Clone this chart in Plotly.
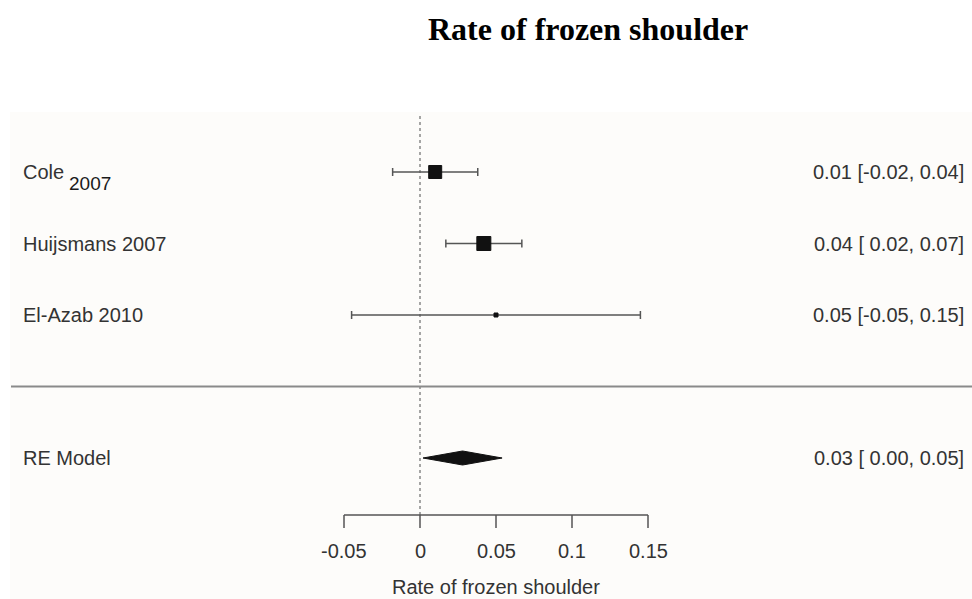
import plotly.graph_objects as go

# ---- data ----
studies = ["Cole", "Huijsmans 2007", "El-Azab 2010"]
cole_sub = "2007"
est = [0.01, 0.042, 0.05]
ci_lo = [-0.018, 0.017, -0.045]
ci_hi = [0.038, 0.067, 0.145]
marker_sizes = [13, 14, 4]
right_labels = ["0.01 [-0.02, 0.04]", "0.04 [ 0.02, 0.07]", "0.05 [-0.05, 0.15]"]
rows = [5, 4, 3]

re_label = "RE Model"
re_est, re_lo, re_hi = 0.028, 0.002, 0.054
re_right = "0.03 [ 0.00, 0.05]"
re_row = 1

ticks = [-0.05, 0, 0.05, 0.1, 0.15]
tick_text = ["-0.05", "0", "0.05", "0.1", "0.15"]
x_title = "Rate of frozen shoulder"
title = "Rate of frozen shoulder"

W, H = 972, 599
TXT = "#333333"
FONT = "Liberation Sans, Arial, sans-serif"
LINE = "#555555"
FS = 20

fig = go.Figure()

# dotted reference line at 0
fig.add_trace(go.Scatter(x=[0, 0], y=[0.203, 5.825], mode="lines",
                         line=dict(color="#888888", width=1.5, dash="dot"),
                         hoverinfo="skip", showlegend=False))

# study CIs
fig.add_trace(go.Scatter(
    x=est, y=rows, mode="markers",
    marker=dict(size=1, color="rgba(0,0,0,0)"),
    error_x=dict(type="data", symmetric=False,
                 array=[h - e for h, e in zip(ci_hi, est)],
                 arrayminus=[e - l for e, l in zip(est, ci_lo)],
                 color=LINE, thickness=1.5, width=4),
    hoverinfo="skip", showlegend=False))

# study squares
fig.add_trace(go.Scatter(
    x=est, y=rows, mode="markers", opacity=1,
    marker=dict(symbol="square", size=marker_sizes, color="#111111", opacity=1,
                line=dict(width=1, color="#111111")),
    hoverinfo="skip", showlegend=False))

# RE diamond
h = 0.098
fig.add_trace(go.Scatter(
    x=[re_lo, re_est, re_hi, re_est, re_lo],
    y=[re_row, re_row + h, re_row, re_row - h, re_row],
    mode="lines", fill="toself", fillcolor="#111111",
    line=dict(color="#111111", width=1), hoverinfo="skip", showlegend=False))

# x axis line and ticks (custom, spanning tick range only)
ax_y, tick_bot = 0.203, 0.021
fig.add_trace(go.Scatter(x=[ticks[0], ticks[-1]], y=[ax_y, ax_y], mode="lines",
                         line=dict(color=LINE, width=1.5), hoverinfo="skip",
                         showlegend=False))
for t in ticks:
    fig.add_trace(go.Scatter(x=[t, t], y=[ax_y, tick_bot], mode="lines",
                             line=dict(color=LINE, width=1.5), hoverinfo="skip",
                             showlegend=False))

annotations = []
for t, tt in zip(ticks, tick_text):
    annotations.append(dict(x=t, y=-0.30, xref="x", yref="y", text=tt,
                            showarrow=False, xanchor="center", yanchor="middle",
                            font=dict(family=FONT, size=FS, color=TXT)))
annotations.append(dict(x=0.05, y=-0.804, xref="x", yref="y", text=x_title,
                        showarrow=False, xanchor="center", yanchor="middle",
                        font=dict(family=FONT, size=FS, color=TXT)))

# left labels
for s, r in zip(studies, rows):
    annotations.append(dict(x=21 / W, y=r, xref="paper", yref="y", text=s,
                            showarrow=False, xanchor="left", yanchor="middle",
                            font=dict(family=FONT, size=FS, color=TXT)))
annotations.append(dict(x=67 / W, y=rows[0], xref="paper", yref="y", text=cole_sub,
                        showarrow=False, xanchor="left", yanchor="middle", yshift=-11,
                        font=dict(family=FONT, size=19, color="#1a1a1a")))
annotations.append(dict(x=21 / W, y=re_row, xref="paper", yref="y", text=re_label,
                        showarrow=False, xanchor="left", yanchor="middle",
                        font=dict(family=FONT, size=FS, color=TXT)))

# right labels
for s, r in zip(right_labels, rows):
    annotations.append(dict(x=966 / W, y=r, xref="paper", yref="y", text=s,
                            showarrow=False, xanchor="right", yanchor="middle",
                            font=dict(family=FONT, size=FS, color=TXT)))
annotations.append(dict(x=966 / W, y=re_row, xref="paper", yref="y", text=re_right,
                        showarrow=False, xanchor="right", yanchor="middle",
                        font=dict(family=FONT, size=FS, color=TXT)))

# title
annotations.append(dict(x=588 / W, y=1 - 29 / H, xref="paper", yref="paper", text="<b>" + title + "</b>",
                        showarrow=False, xanchor="center", yanchor="middle",
                        font=dict(family="Liberation Serif, Times New Roman, serif", size=32, color="#000000")))

shapes = [
    dict(type="rect", xref="paper", yref="paper", x0=10 / W, x1=1, y0=0, y1=1 - 112 / H,
         fillcolor="#fdfcfa", line=dict(width=0), layer="below"),
    dict(type="line", xref="paper", yref="y", x0=11 / W, x1=1, y0=2, y1=2,
         line=dict(color="#8a8a8a", width=2)),
]

fig.update_layout(
    width=W, height=H, margin=dict(l=0, r=0, t=0, b=0),
    paper_bgcolor="white", plot_bgcolor="rgba(0,0,0,0)",
    xaxis=dict(range=[-420 / 1520, (W - 420) / 1520], visible=False, fixedrange=True),
    yaxis=dict(range=[1 - (H - 458) / 71.5, 5 + 172 / 71.5], visible=False, fixedrange=True),
    annotations=annotations, shapes=shapes, showlegend=False,
)

fig.write_html("out.html")
